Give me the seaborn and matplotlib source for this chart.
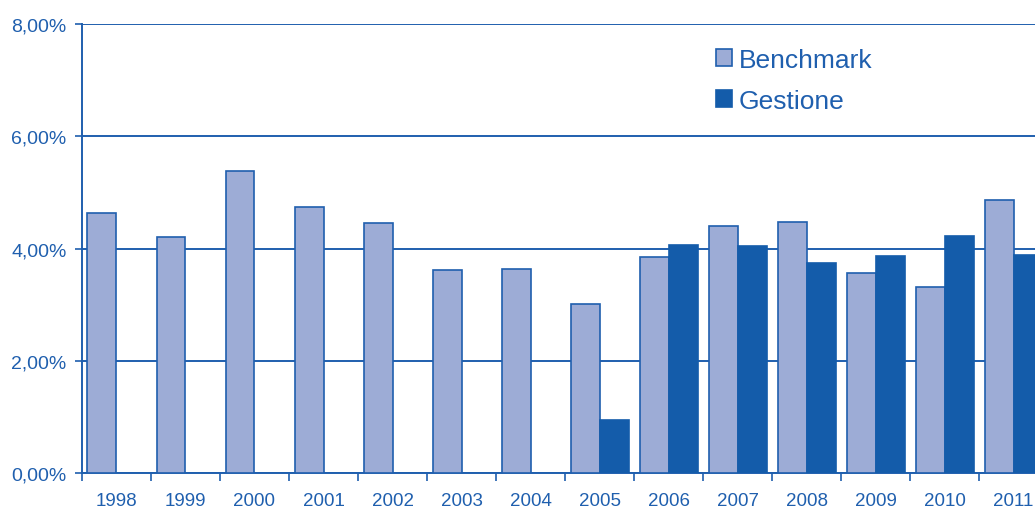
import numpy as np
import pandas as pd
import matplotlib
matplotlib.use("Agg")
import matplotlib.pyplot as plt
import seaborn as sns
from matplotlib.patches import Patch
from matplotlib.ticker import FuncFormatter, FixedLocator

years = ["1998", "1999", "2000", "2001", "2002", "2003", "2004",
         "2005", "2006", "2007", "2008", "2009", "2010", "2011"]
benchmark = [4.64, 4.21, 5.38, 4.75, 4.46, 3.61, 3.63,
             3.01, 3.85, 4.41, 4.47, 3.57, 3.32, 4.87]
gestione = [np.nan, np.nan, np.nan, np.nan, np.nan, np.nan, np.nan,
            0.95, 4.07, 4.05, 3.75, 3.87, 4.23, 3.89]
series = ["Benchmark", "Gestione"]

BLUE = "#1F5FAE"
LIGHT = "#9DACD6"
DARK = "#145CAA"

df = pd.DataFrame({
    "year": years * 2,
    "value": benchmark + gestione,
    "series": [series[0]] * len(years) + [series[1]] * len(years),
})

sns.set_theme(style="white")
plt.rcParams["font.family"] = ["Liberation Sans", "DejaVu Sans"]

fig = plt.figure(figsize=(10.35, 5.1), dpi=100)
ax = fig.add_axes([0.0792, 0.0706, 0.9208, 0.880])

sns.barplot(data=df, x="year", y="value", hue="series", order=years,
            hue_order=series, palette=[LIGHT, DARK], width=0.84,
            ax=ax, legend=False, errorbar=None, saturation=1)

for bar, c in zip(ax.patches, [BLUE] * len(years) + [DARK] * len(years)):
    bar.set_edgecolor(c)
    bar.set_linewidth(1.2)
    bar.set_zorder(3)

ax.set_ylim(0, 8)
ax.set_xlim(-0.5, 13.31)
ax.set_yticks([0, 2, 4, 6, 8])
ax.yaxis.set_major_formatter(FuncFormatter(lambda v, p: f"{v:.2f}%".replace(".", ",")))
ax.grid(axis="y", color=BLUE, linewidth=1.4, zorder=1)
ax.set_axisbelow(True)

ax.set_xticks(range(len(years)))
ax.set_xticklabels(years)
ax.xaxis.set_minor_locator(FixedLocator(np.arange(-0.5, 13.6, 1)))
ax.tick_params(axis="x", which="major", length=0, pad=14, labelsize=13.5, labelcolor=BLUE)
ax.tick_params(axis="x", which="minor", length=6, width=1.2, color=BLUE, direction="out", bottom=True)
ax.tick_params(axis="y", which="major", length=5, width=1.2, color=BLUE, direction="out",
               left=True, labelsize=14, labelcolor=BLUE, pad=6)

for s in ["top", "right"]:
    ax.spines[s].set_visible(False)
for s in ["left", "bottom"]:
    ax.spines[s].set_color(BLUE)
    ax.spines[s].set_linewidth(1.4)

ax.set_xlabel("")
ax.set_ylabel("")

handles = [Patch(facecolor=LIGHT, edgecolor=BLUE, linewidth=1.2),
           Patch(facecolor=DARK, edgecolor=DARK, linewidth=1.2)]
leg = fig.legend(handles, series, loc="upper left", bbox_to_anchor=(0.679, 0.93),
                 frameon=False, fontsize=19, handlelength=0.6, handleheight=0.6,
                 handletextpad=0.25, labelspacing=0.63, borderpad=0)
for t in leg.get_texts():
    t.set_color(BLUE)

fig.savefig("out.png", dpi=100, facecolor="white")
